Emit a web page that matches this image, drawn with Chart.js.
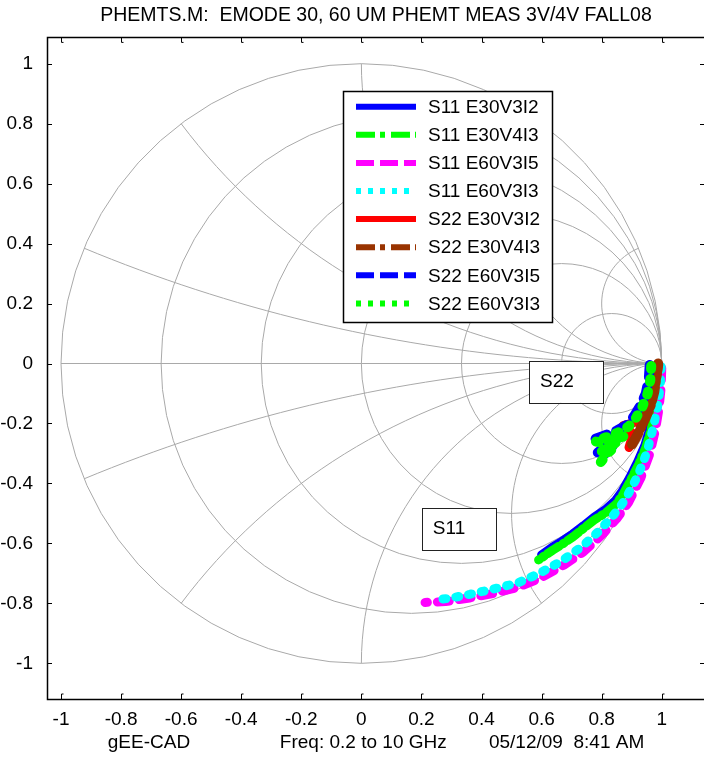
<!DOCTYPE html>
<html>
<head>
<meta charset="utf-8">
<title>PHEMTS.M</title>
<script src="https://cdn.jsdelivr.net/npm/chart.js@4.4.0/dist/chart.umd.min.js"></script>
<style>
  html, body { margin: 0; padding: 0; background: #fff; overflow: hidden; }
  #wrap { width: 712px; height: 758px; }
</style>
</head>
<body>
<div id="wrap"><canvas id="smith" width="712" height="758"></canvas></div>
<script>
// trace names, colours and MATLAB-style line styles, in plot order
const traceNames = ['S11 E30V3I2', 'S11 E30V4I3', 'S11 E60V3I5', 'S11 E60V3I3',
                    'S22 E30V3I2', 'S22 E30V4I3', 'S22 E60V3I5', 'S22 E60V3I3'];
const traceColors = ['#0000ff', '#00ff00', '#ff00ff', '#00ffff',
                     '#ff0000', '#993300', '#0000ff', '#00ff00'];
const traceStyles = ['-', '-.', '--', ':', '-', '-.', '--', ':'];
const traceWidths = [9, 9, 9, 9, 9, 10, 10, 10];

// reflection coefficients [re, im], 0.2 to 10 GHz
const s11E30V3I2 = [[0.993, -0.010], [0.988, -0.065], [0.978, -0.135], [0.962, -0.213], [0.944, -0.273],
  [0.920, -0.328], [0.893, -0.382], [0.868, -0.427], [0.845, -0.458], [0.812, -0.488], [0.775, -0.513],
  [0.740, -0.541], [0.703, -0.569], [0.668, -0.593], [0.635, -0.613], [0.600, -0.638]];
const s11E30V4I3 = [[0.995, -0.015], [0.990, -0.070], [0.980, -0.140], [0.965, -0.220], [0.947, -0.280],
  [0.924, -0.335], [0.896, -0.390], [0.872, -0.435], [0.849, -0.468], [0.815, -0.497], [0.775, -0.522],
  [0.740, -0.550], [0.705, -0.578], [0.670, -0.602], [0.638, -0.622], [0.590, -0.655]];
const s11E60V3I5 = [[1.000, -0.015], [0.998, -0.080], [0.991, -0.150], [0.979, -0.222], [0.960, -0.302],
  [0.930, -0.383], [0.890, -0.463], [0.850, -0.518], [0.800, -0.573], [0.740, -0.628], [0.675, -0.672],
  [0.600, -0.714], [0.520, -0.747], [0.440, -0.767], [0.360, -0.782], [0.280, -0.794], [0.212, -0.797]];
const s11E60V3I3 = [[0.998, -0.010], [0.995, -0.075], [0.986, -0.145], [0.972, -0.212], [0.951, -0.295],
  [0.920, -0.375], [0.878, -0.455], [0.840, -0.505], [0.790, -0.560], [0.735, -0.610], [0.665, -0.660],
  [0.592, -0.700], [0.520, -0.732], [0.440, -0.752], [0.360, -0.770], [0.300, -0.782], [0.250, -0.788]];
const s22E30V3I2 = [[0.990, -0.004], [0.982, -0.050], [0.970, -0.100], [0.955, -0.145], [0.935, -0.180],
  [0.905, -0.198], [0.872, -0.207], [0.905, -0.235], [0.891, -0.280]];
const s22E30V4I3 = [[0.988, 0.000], [0.983, -0.040], [0.975, -0.095], [0.963, -0.140], [0.950, -0.172],
  [0.935, -0.205], [0.918, -0.240], [0.900, -0.272]];
const s22E60V3I5 = [[0.960, -0.005], [0.957, -0.050], [0.947, -0.100], [0.929, -0.140], [0.908, -0.175],
  [0.883, -0.205], [0.850, -0.224], [0.810, -0.240], [0.772, -0.254], [0.805, -0.260], [0.845, -0.245],
  [0.866, -0.238], [0.835, -0.266], [0.805, -0.282], [0.787, -0.297], [0.805, -0.297], [0.835, -0.277],
  [0.810, -0.302], [0.790, -0.325]];
const s22E60V3I3 = [[0.965, -0.008], [0.962, -0.055], [0.953, -0.100], [0.935, -0.145], [0.915, -0.180],
  [0.890, -0.210], [0.855, -0.230], [0.815, -0.246], [0.778, -0.260], [0.810, -0.265], [0.850, -0.250],
  [0.872, -0.243], [0.840, -0.270], [0.810, -0.285], [0.792, -0.300], [0.810, -0.300], [0.840, -0.280],
  [0.815, -0.305], [0.796, -0.330]];
const traces = [s11E30V3I2, s11E30V4I3, s11E60V3I5, s11E60V3I3,
                s22E30V3I2, s22E30V4I3, s22E60V3I5, s22E60V3I3];

// axis ticks
const xTickValues = [-1, -0.8, -0.6, -0.4, -0.2, 0, 0.2, 0.4, 0.6, 0.8, 1];
const yTickValues = [-1, -0.8, -0.6, -0.4, -0.2, 0, 0.2, 0.4, 0.6, 0.8, 1];

// smith chart grid: constant resistance circles and reactance arcs
const resistanceCircles = [0.2, 0.5, 1, 2, 5];
const reactanceArcs = [0.2, 0.5, 1, 2, 5];

const plotTitle = 'PHEMTS.M:  EMODE 30, 60 UM PHEMT MEAS 3V/4V FALL08';
const xLabel = 'gEE-CAD                 Freq: 0.2 to 10 GHz        05/12/09  8:41 AM';

const FONT = '"Liberation Sans", Arial, Helvetica, sans-serif';

const plotDash = { '-': [], '-.': [14, 4, 2, 4], '--': [12, 10], ':': [3, 10] };
const legendDash = { '-': [], '-.': [19, 5, 5, 6], '--': [18, 6], ':': [5, 7] };

const smithGrid = {
    id: 'smithGrid',
    beforeDatasetsDraw(chart) {
        const { ctx, scales: { x, y } } = chart;
        const path = (pts) => {
            ctx.beginPath();
            pts.forEach(([re, im], i) => {
                const px = x.getPixelForValue(re), py = y.getPixelForValue(im);
                if (i) ctx.lineTo(px, py); else ctx.moveTo(px, py);
            });
            ctx.stroke();
        };
        const arc = (cx, cy, r, t0, t1, n) => {
            const pts = [];
            for (let k = 0; k <= n; k++) {
                const t = t0 + (t1 - t0) * k / n;
                pts.push([cx + r * Math.cos(t), cy + r * Math.sin(t)]);
            }
            return pts;
        };
        ctx.save();
        ctx.strokeStyle = '#a9a9a9';
        ctx.lineWidth = 1;
        path(arc(0, 0, 1, 0, 2 * Math.PI, 60));
        path([[-1, 0], [1, 0]]);
        for (const r of resistanceCircles) {
            path(arc(r / (1 + r), 0, 1 / (1 + r), 0, 2 * Math.PI, 60));
        }
        for (const xv of reactanceArcs) {
            const c = 1 / xv;
            const hit = [(xv * xv - 1) / (xv * xv + 1), 2 * xv / (xv * xv + 1)];
            let t0 = Math.atan2(hit[1] - c, hit[0] - 1);
            if (t0 < 0) t0 += 2 * Math.PI;
            const upper = arc(1, c, c, t0, 1.5 * Math.PI, 40);
            path(upper);
            path(upper.map(([re, im]) => [re, -im]));
        }
        ctx.restore();
    }
};

const axesFrame = {
    id: 'axesFrame',
    afterDatasetsDraw(chart) {
        const { ctx, chartArea: a, scales: { x, y } } = chart;
        ctx.save();
        ctx.strokeStyle = '#000';
        ctx.lineWidth = 1;
        ctx.beginPath();
        for (const v of xTickValues) {
            const px = Math.round(x.getPixelForValue(v)) + 0.5;
            ctx.moveTo(px, a.top); ctx.lineTo(px, a.top + 5); ctx.lineTo(px + 2, a.top + 5);
            ctx.moveTo(px, a.bottom); ctx.lineTo(px, a.bottom - 5); ctx.lineTo(px + 2, a.bottom - 5);
        }
        for (const v of yTickValues) {
            const py = Math.round(y.getPixelForValue(v)) + 0.5;
            ctx.moveTo(a.left, py); ctx.lineTo(a.left + 5, py);
            ctx.moveTo(a.right, py); ctx.lineTo(a.right - 5, py);
        }
        ctx.stroke();
        ctx.lineWidth = 1.5;
        ctx.strokeRect(Math.round(a.left) + 0.5, Math.round(a.top) + 0.5,
                       Math.round(a.right - a.left), Math.round(a.bottom - a.top));
        ctx.restore();
    }
};

const textBoxes = {
    id: 'textBoxes',
    afterDatasetsDraw(chart, args, opts) {
        const { ctx, scales: { x, y } } = chart;
        ctx.save();
        ctx.font = '19px ' + FONT;
        ctx.textBaseline = 'middle';
        for (const b of opts.items) {
            const px = x.getPixelForValue(b.at[0]), py = y.getPixelForValue(b.at[1]);
            ctx.fillStyle = '#fff';
            ctx.fillRect(px - 11, py - 21, 75, 42);
            ctx.strokeStyle = '#222';
            ctx.lineWidth = 1;
            ctx.strokeRect(Math.round(px - 11) + 0.5, Math.round(py - 21) + 0.5, 74, 42);
            ctx.fillStyle = '#000';
            ctx.fillText(b.text, px, py);
        }
        ctx.restore();
    }
};

const legendBox = {
    id: 'legendBox',
    afterDraw(chart, args, opts) {
        const { ctx, chartArea } = chart;
        const left = Math.round(chartArea.left + opts.left), top = Math.round(chartArea.top + opts.top);
        ctx.save();
        ctx.fillStyle = '#fff';
        ctx.fillRect(left, top, opts.width, opts.height);
        ctx.strokeStyle = '#000';
        ctx.lineWidth = 1.5;
        ctx.strokeRect(left + 0.5, top + 0.5, opts.width, opts.height);
        ctx.font = '19px ' + FONT;
        ctx.textBaseline = 'middle';
        chart.data.datasets.forEach((ds, i) => {
            const ly = top + opts.firstRow + i * opts.rowHeight;
            ctx.strokeStyle = ds.borderColor;
            ctx.lineWidth = 6;
            ctx.lineCap = 'butt';
            ctx.setLineDash(legendDash[traceStyles[i]]);
            ctx.beginPath();
            ctx.moveTo(left + 13, ly);
            ctx.lineTo(left + 73, ly);
            ctx.stroke();
            ctx.setLineDash([]);
            ctx.fillStyle = '#000';
            ctx.fillText(ds.label, left + 85, ly + 1);
        });
        ctx.restore();
    }
};

Chart.defaults.font.family = FONT;
Chart.defaults.font.size = 19;
Chart.defaults.color = '#000';

const datasets = traces.map((pts, i) => ({
    label: traceNames[i],
    data: pts.map(([re, im]) => ({ x: re, y: im })),
    showLine: true,
    borderColor: traceColors[i],
    backgroundColor: traceColors[i],
    borderWidth: traceWidths[i],
    borderDash: plotDash[traceStyles[i]],
    borderCapStyle: 'round',
    borderJoinStyle: 'round',
    pointRadius: 0,
    tension: 0,
    order: traces.length - i
}));

new Chart(document.getElementById('smith'), {
    type: 'scatter',
    data: { datasets },
    options: {
        responsive: false,
        animation: false,
        layout: { padding: { right: 7 } },
        scales: {
            x: {
                type: 'linear',
                min: -1.0466,
                max: 1.144,
                grid: { display: false },
                border: { display: false },
                afterBuildTicks: (scale) => { scale.ticks = xTickValues.map(v => ({ value: v })); },
                afterFit: (scale) => { scale.height = 59; },
                ticks: {
                    padding: 1,
                    maxRotation: 0,
                    autoSkip: false,
                    callback: (v) => String(v)
                },
                title: {
                    display: true,
                    text: xLabel,
                    padding: { top: 0, bottom: 4 }
                }
            },
            y: {
                type: 'linear',
                min: -1.119,
                max: 1.0877,
                grid: { display: false },
                border: { display: false },
                afterBuildTicks: (scale) => { scale.ticks = yTickValues.map(v => ({ value: v })); },
                afterFit: (scale) => { scale.width = 47; },
                ticks: {
                    padding: 6,
                    autoSkip: false,
                    callback: (v) => String(v)
                }
            }
        },
        plugins: {
            legend: { display: false },
            tooltip: { enabled: false },
            title: {
                display: true,
                text: plotTitle,
                fullSize: false,
                font: { size: 19.5, weight: 'normal' },
                padding: { top: 4, bottom: 10 }
            },
            textBoxes: {
                items: [
                    { text: 'S22', at: [0.595, -0.061] },
                    { text: 'S11', at: [0.238, -0.552] }
                ]
            },
            legendBox: { left: 296, top: 54, width: 209, height: 231, firstRow: 15.7, rowHeight: 28.1 }
        }
    },
    plugins: [smithGrid, textBoxes, axesFrame, legendBox]
});
</script>
</body>
</html>
